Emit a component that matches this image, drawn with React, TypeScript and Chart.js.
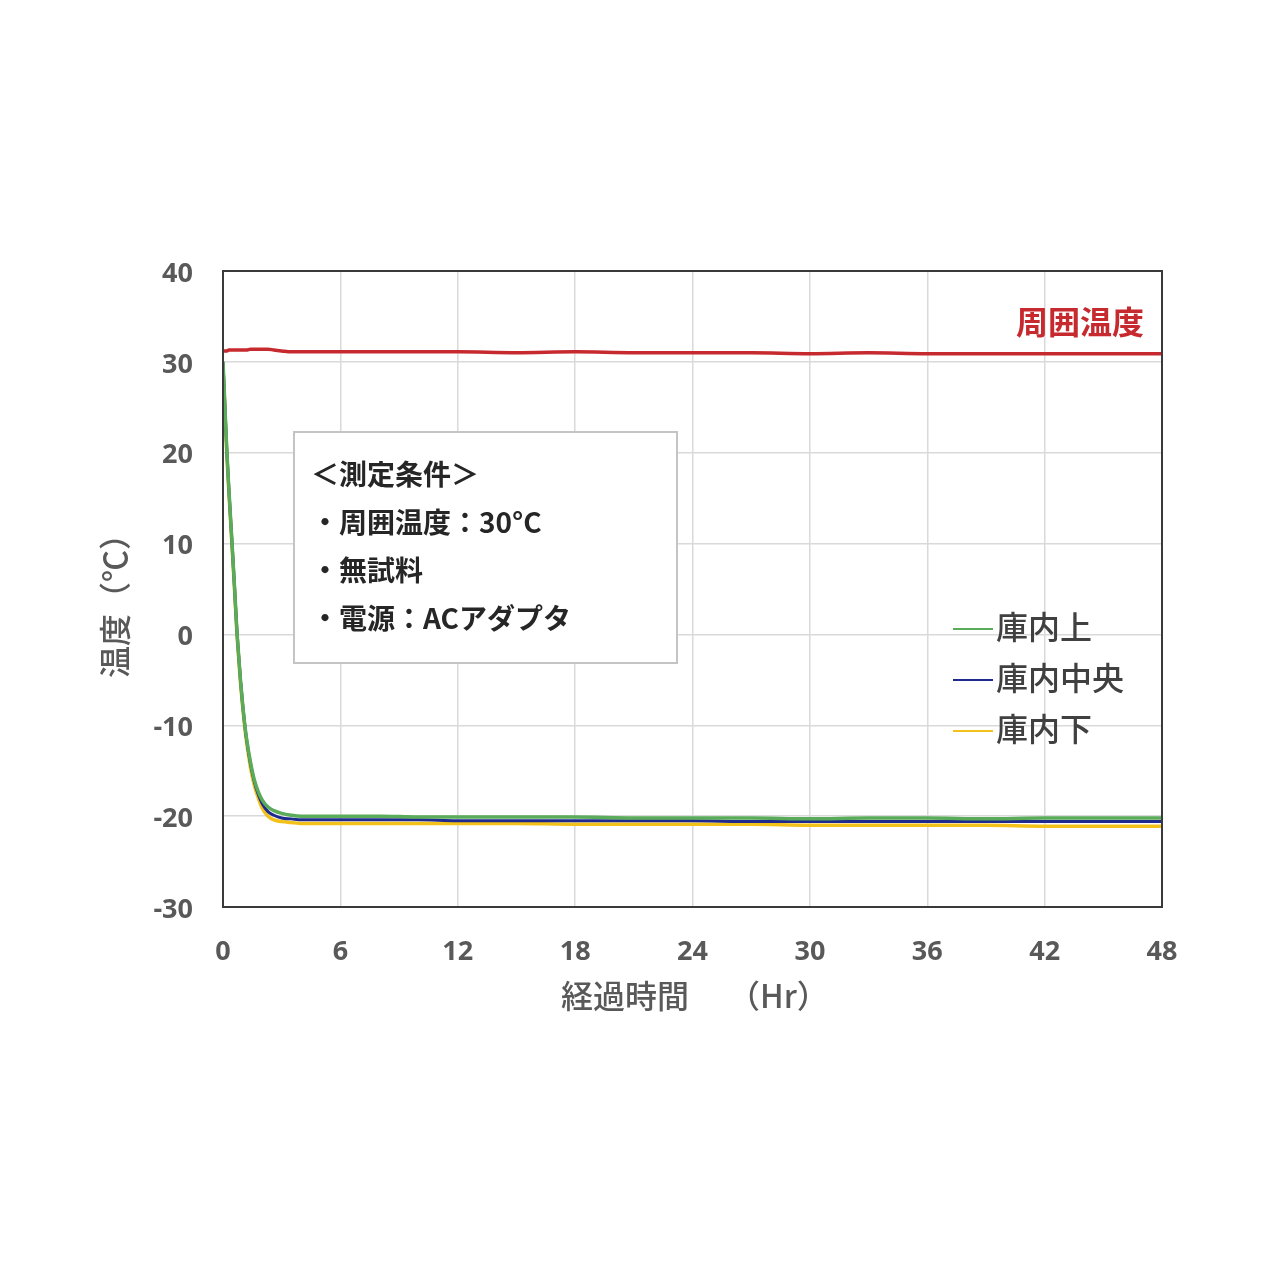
import React, { useEffect, useRef } from "react";
import { Chart, registerables } from "chart.js";

Chart.register(...registerables);

// ---- data ----
const hours = [0, 0.1, 0.2, 0.3, 0.4, 0.5, 0.6, 0.7, 0.8, 0.9, 1.0, 1.1, 1.2, 1.4, 1.6, 1.8, 2.0, 2.3, 2.6, 3.0, 3.5, 4, 5, 6, 8, 10, 12, 15, 18, 21, 24, 27, 30, 33, 36, 39, 42, 45, 48];
const ambient = [31.2, 31.2, 31.2, 31.3, 31.3, 31.3, 31.3, 31.3, 31.3, 31.3, 31.3, 31.3, 31.3, 31.4, 31.4, 31.4, 31.4, 31.4, 31.3, 31.2, 31.1, 31.1, 31.1, 31.1, 31.1, 31.1, 31.1, 31.0, 31.1, 31.0, 31.0, 31.0, 30.9, 31.0, 30.9, 30.9, 30.9, 30.9, 30.9];
const upper = [30, 25, 20, 16, 12.3, 8.6, 4.8, 0.8, -2.3, -5.2, -7.6, -9.7, -11.4, -14.0, -16.0, -17.3, -18.2, -19.0, -19.4, -19.7, -19.9, -20.0, -20.0, -20.0, -20.0, -20.1, -20.1, -20.1, -20.1, -20.2, -20.2, -20.2, -20.3, -20.2, -20.2, -20.3, -20.2, -20.2, -20.2];
const middle = [30, 25, 20, 16, 12.3, 8.6, 4.8, 0.8, -2.3, -5.2, -7.6, -9.7, -11.5, -14.2, -16.2, -17.6, -18.6, -19.5, -19.9, -20.2, -20.3, -20.4, -20.4, -20.4, -20.4, -20.4, -20.5, -20.5, -20.5, -20.5, -20.5, -20.6, -20.6, -20.6, -20.6, -20.6, -20.6, -20.6, -20.6];
const lower = [29.5, 24.6, 19.6, 15.6, 12.0, 8.3, 4.5, 0.5, -2.6, -5.5, -7.9, -10.0, -11.8, -14.6, -16.6, -18.0, -19.1, -20.0, -20.4, -20.6, -20.7, -20.8, -20.8, -20.8, -20.8, -20.8, -20.8, -20.8, -20.9, -20.9, -20.9, -20.9, -21.0, -21.0, -21.0, -21.0, -21.1, -21.1, -21.1];

const xTickValues = [0, 6, 12, 18, 24, 30, 36, 42, 48];
const yTickValues = [-30, -20, -10, 0, 10, 20, 30, 40];

const seriesLabels = ["庫内上", "庫内中央", "庫内下"];
const ambientLabel = "周囲温度";
const conditionLines = ["＜測定条件＞", "・周囲温度：30°C", "・無試料", "・電源：ACアダプタ"];
const xTitle = "経過時間";
const xUnit = "（Hr）";
const yTitle = "温度（℃）";

const RED = "#c62a2f";
const GREEN = "#5aab5a";
const BLUE = "#1f2a8f";
const YELLOW = "#f2c21b";
const JP = "'Noto Sans CJK JP', 'Noto Sans', sans-serif";
const NUM = "'Open Sans', 'Noto Sans CJK JP', sans-serif";

function toPoints(values: number[]) {
  return hours.map((h, i) => ({ x: h, y: values[i] }));
}

const overlayPlugin = {
  id: "overlay",
  afterDatasetsDraw(chart: any) {
    const ctx = chart.ctx as CanvasRenderingContext2D;
    const a = chart.chartArea;
    ctx.save();
    // plot border
    ctx.strokeStyle = "#3a3a3a";
    ctx.lineWidth = 2;
    ctx.strokeRect(a.left, a.top, a.right - a.left, a.bottom - a.top);

    // condition box
    ctx.fillStyle = "#ffffff";
    ctx.fillRect(294, 432, 383, 231);
    ctx.strokeStyle = "#c4c4c4";
    ctx.lineWidth = 2;
    ctx.strokeRect(294, 432, 383, 231);
    ctx.fillStyle = "#262626";
    ctx.font = `bold 28px ${JP}`;
    ctx.textAlign = "left";
    ctx.textBaseline = "middle";
    conditionLines.forEach((t, i) => {
      ctx.fillText(t, 311, 474 + i * 48);
    });

    // legend
    const colors = [GREEN, BLUE, YELLOW];
    ctx.font = `500 32px ${JP}`;
    seriesLabels.forEach((t, i) => {
      const y = 629 + i * 51;
      ctx.strokeStyle = colors[i];
      ctx.lineWidth = 2;
      ctx.beginPath();
      ctx.moveTo(953, y);
      ctx.lineTo(993, y);
      ctx.stroke();
      ctx.fillStyle = "#404040";
      ctx.fillText(t, 996, y - 2);
    });

    // ambient label
    ctx.fillStyle = RED;
    ctx.font = `bold 32px ${JP}`;
    ctx.textAlign = "right";
    ctx.fillText(ambientLabel, 1144, 322);

    // axis titles
    ctx.fillStyle = "#595959";
    ctx.font = `500 32px ${JP}`;
    ctx.textAlign = "left";
    ctx.fillText(xTitle, 561, 996);
    ctx.fillText(xUnit, 728, 996);

    ctx.translate(115, 598);
    ctx.rotate(-Math.PI / 2);
    ctx.textAlign = "center";
    ctx.fillText(yTitle, 0, 0);
    ctx.restore();
  },
};

export default function App() {
  const ref = useRef<HTMLCanvasElement | null>(null);

  useEffect(() => {
    document.body.style.margin = "0";
    const canvas = ref.current;
    if (!canvas) return;
    const mk = (label: string, values: number[], color: string, width: number) => ({
      label,
      data: toPoints(values),
      borderColor: color,
      backgroundColor: color,
      borderWidth: width,
      pointRadius: 0,
      cubicInterpolationMode: "monotone" as const,
      fill: false,
    });
    const chart = new Chart(canvas, {
      type: "line",
      data: {
        datasets: [
          mk(ambientLabel, ambient, RED, 3.5),
          mk(seriesLabels[0], upper, GREEN, 3.5),
          mk(seriesLabels[1], middle, BLUE, 3),
          mk(seriesLabels[2], lower, YELLOW, 3.5),
        ],
      },
      options: {
        responsive: false,
        animation: false,
        layout: { padding: { top: 271, right: 114, left: 0, bottom: 0 } },
        plugins: { legend: { display: false }, tooltip: { enabled: false } },
        scales: {
          x: {
            type: "linear",
            min: 0,
            max: 48,
            afterBuildTicks: (s: any) => {
              s.ticks = xTickValues.map((v) => ({ value: v }));
            },
            afterFit: (s: any) => {
              s.height = 1276 - 907;
            },
            ticks: {
              color: "#595959",
              font: { family: NUM, size: 27, weight: "bold" },
              padding: 29,
              maxRotation: 0,
            },
            grid: { color: "#d9d9d9", lineWidth: 1.5, drawTicks: false },
            border: { display: false },
          },
          y: {
            type: "linear",
            min: -30,
            max: 40,
            afterBuildTicks: (s: any) => {
              s.ticks = yTickValues.map((v) => ({ value: v }));
            },
            afterFit: (s: any) => {
              s.width = 223;
            },
            ticks: {
              color: "#595959",
              font: { family: NUM, size: 27, weight: "bold" },
              padding: 30,
              labelOffset: 3,
            },
            grid: { color: "#d9d9d9", lineWidth: 1.5, drawTicks: false },
            border: { display: false },
          },
        },
      },
      plugins: [overlayPlugin],
    });
    return () => chart.destroy();
  }, []);

  return (
    <div style={{ position: "absolute", left: 0, top: 0, width: 1276, height: 1276, background: "#fff" }}>
      <canvas ref={ref} width={1276} height={1276} style={{ width: 1276, height: 1276 }} />
    </div>
  );
}
